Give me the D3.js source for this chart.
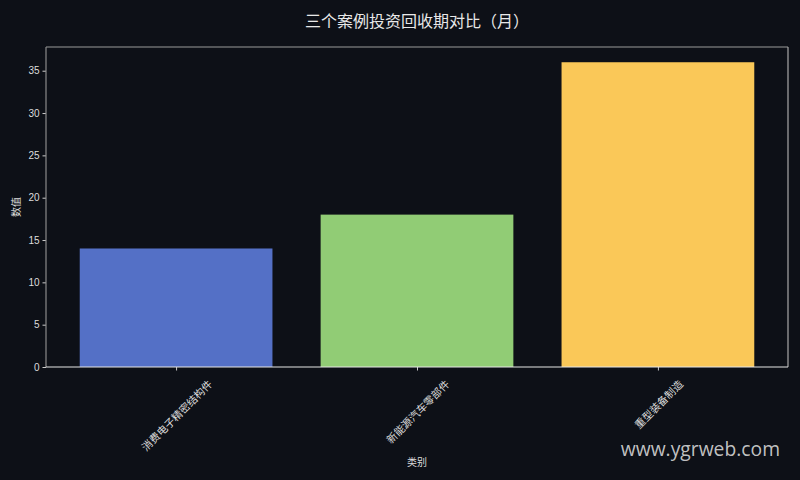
<!DOCTYPE html>
<html><head><meta charset="utf-8">
<script src="https://cdn.jsdelivr.net/npm/d3@7"></script>
<style>
html,body{margin:0;padding:0;background:#0d1017;}
svg{display:block;}
</style></head>
<body>
<svg id="chart" width="800" height="480"></svg>
<script>
const categories = ["消费电子精密结构件", "新能源汽车零部件", "重型装备制造"];
const values = [14, 18, 36];
const colors = ["#5470c6", "#91cc75", "#fac858"];
const yTicks = [0, 5, 10, 15, 20, 25, 30, 35];
const title = "三个案例投资回收期对比（月）";
const xLabel = "类别";
const yLabel = "数值";
const watermark = "www.ygrweb.com";

const W = 800, H = 480;
const m = {left: 46, right: 12, top: 47, bottom: 113};
const svg = d3.select("#chart");
svg.append("rect").attr("width", W).attr("height", H).attr("fill", "#0d1017");

const cjk = "'Noto Sans CJK SC','Noto Sans',sans-serif";
const cjkTC = "'Noto Sans CJK TC','Noto Sans CJK SC',sans-serif";
const sans = "'Liberation Sans','DejaVu Sans',Arial,sans-serif";

const x = d3.scaleLinear().domain([-0.54, 2.54]).range([m.left, W - m.right]);
const y = d3.scaleLinear().domain([0, 37.8]).range([H - m.bottom, m.top]);

const g = svg.append("g");

// bars
g.selectAll("rect.bar").data(values).join("rect")
  .attr("class", "bar")
  .attr("x", (d, i) => x(i - 0.4))
  .attr("width", (d, i) => x(i + 0.4) - x(i - 0.4))
  .attr("y", d => y(d))
  .attr("height", d => y(0) - y(d))
  .attr("fill", (d, i) => colors[i]);

// y axis
const yAxis = d3.axisLeft(y).tickValues(yTicks).tickSize(3.5).tickPadding(3);
const ya = g.append("g").attr("transform", `translate(${m.left},0)`).call(yAxis);
ya.select(".domain").remove();
ya.selectAll(".tick line").attr("stroke", "#cccccc");
ya.selectAll(".tick text").attr("fill", "#dddddd").style("font-family", sans).style("font-size", "10px");

// x axis
const xAxis = d3.axisBottom(x).tickValues(d3.range(categories.length)).tickSize(3.5).tickFormat(i => categories[i]);
const xa = g.append("g").attr("transform", `translate(0,${H - m.bottom})`).call(xAxis);
xa.select(".domain").remove();
xa.selectAll(".tick line").attr("stroke", "#cccccc");
const fs = 10.5;
xa.selectAll(".tick text")
  .attr("fill", "#dddddd")
  .style("font-family", cjk)
  .style("font-size", fs + "px")
  .attr("text-anchor", "middle")
  .attr("dominant-baseline", "central")
  .attr("dy", null)
  .attr("y", null)
  .attr("transform", function(i) {
    const L = categories[i].length * fs;
    const half = (L + fs) * Math.SQRT1_2 / 2;
    return `translate(0,${11 + half}) rotate(-45)`;
  });

// spines
const x0 = m.left, x1 = W - m.right, y0 = m.top, y1 = H - m.bottom;
g.append("line").attr("x1", x0).attr("x2", x1).attr("y1", y0).attr("y2", y0).attr("stroke", "#9a9a9a").attr("stroke-width", 1.2);
g.append("line").attr("x1", x0).attr("x2", x0).attr("y1", y0).attr("y2", y1).attr("stroke", "#8a8a8a").attr("stroke-width", 1.2);
g.append("line").attr("x1", x1).attr("x2", x1).attr("y1", y0).attr("y2", y1).attr("stroke", "#a8a8a8").attr("stroke-width", 1.2);
g.append("line").attr("x1", x0).attr("x2", x1).attr("y1", y1).attr("y2", y1).attr("stroke", "#e6e6e6").attr("stroke-width", 1.2);

// title
svg.append("text").attr("x", (x0 + x1) / 2).attr("y", 20)
  .attr("lang", "zh-TW").attr("xml:lang", "zh-TW")
  .attr("text-anchor", "middle").attr("dominant-baseline", "central")
  .attr("fill", "#e8e8e8").style("font-family", cjkTC).style("font-size", "16px")
  .text(title);

// axis labels
svg.append("text").attr("x", (x0 + x1) / 2).attr("y", 461)
  .attr("text-anchor", "middle").attr("dominant-baseline", "central")
  .attr("fill", "#dddddd").style("font-family", cjk).style("font-size", "10px")
  .text(xLabel);
svg.append("text").attr("transform", `translate(15,${(y0 + y1) / 2}) rotate(-90)`)
  .attr("text-anchor", "middle").attr("dominant-baseline", "central")
  .attr("fill", "#dddddd").style("font-family", cjk).style("font-size", "10px")
  .text(yLabel);

// watermark
svg.append("text").attr("x", 780).attr("y", 456)
  .attr("text-anchor", "end")
  .attr("fill", "#d8d8d8").attr("fill-opacity", 0.9)
  .style("font-family", "'Open Sans','Noto Sans',sans-serif").style("font-size", "19.3px")
  .text(watermark);
</script>
</body></html>
